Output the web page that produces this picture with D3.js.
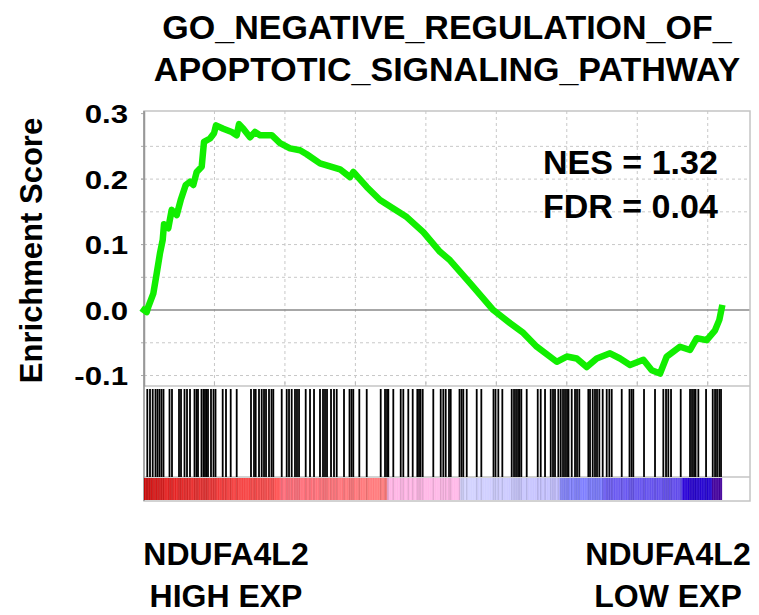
<!DOCTYPE html>
<html><head><meta charset="utf-8">
<script src="https://cdn.jsdelivr.net/npm/d3@7"></script>
<style>body{margin:0;background:#fff}svg{display:block}</style>
</head><body>
<svg id="chart" width="759" height="615"></svg>
<script>
// ---------- data ----------
const titleLines = ["GO_NEGATIVE_REGULATION_OF_", "APOPTOTIC_SIGNALING_PATHWAY"];
const statLines = ["NES = 1.32", "FDR = 0.04"];
const yLabel = "Enrichment Score";
const leftLabels = ["NDUFA4L2", "HIGH EXP"];
const rightLabels = ["NDUFA4L2", "LOW EXP"];
const yTickValues = [-0.1, 0.0, 0.1, 0.2, 0.3];
const yGridValues = [-0.1, -0.05, 0.05, 0.1, 0.15, 0.2, 0.25];
const xGridValues = [2500, 5000, 7500, 10000, 12500, 15000, 17500, 20000];
const totalGenes = 20500;
const xAxisMax = 21500;

// running enrichment score (rank, ES)
const esRanks = [0, 96, 153, 330, 451, 568, 663, 710, 862, 983, 1160, 1302, 1480, 1632, 1749, 1870, 2047, 2129, 2342, 2484, 2555, 2814, 3112, 3289, 3371, 3523, 3761, 3938, 4116, 4531, 4825, 5180, 5535, 5773, 6245, 6482, 6954, 7309, 7426, 7902, 8373, 8845, 9321, 9910, 10502, 10857, 11567, 12393, 12986, 13458, 13933, 14643, 14998, 15353, 15707, 16062, 16534, 16889, 17244, 17716, 18014, 18309, 18546, 19018, 19372, 19610, 19965, 20259, 20412, 20497];
const esValues = [0.0, -0.003, 0.005, 0.025, 0.056, 0.087, 0.107, 0.131, 0.125, 0.153, 0.145, 0.168, 0.191, 0.196, 0.191, 0.211, 0.219, 0.257, 0.262, 0.270, 0.282, 0.277, 0.272, 0.267, 0.284, 0.277, 0.264, 0.272, 0.267, 0.267, 0.255, 0.247, 0.244, 0.238, 0.224, 0.221, 0.215, 0.203, 0.211, 0.188, 0.168, 0.155, 0.142, 0.119, 0.089, 0.076, 0.041, 0.000, -0.020, -0.035, -0.056, -0.079, -0.071, -0.074, -0.087, -0.074, -0.066, -0.074, -0.084, -0.076, -0.092, -0.097, -0.071, -0.056, -0.061, -0.043, -0.046, -0.031, -0.015, 0.003];

// gene-set hit ranks
const hitRanks = [117, 213, 309, 408, 479, 550, 621, 692, 905, 993, 1242, 1313, 1437, 1526, 1632, 1792, 1863, 1916, 2040, 2111, 2164, 2218, 2271, 2377, 2466, 2537, 2792, 2909, 3076, 3289,
 3796, 3903, 3963, 4080, 4176, 4258, 4329, 4435, 4524, 4588, 4886, 5063, 5145, 5240, 5357, 5428, 5500, 5737, 5890, 6032, 6244, 6351, 6422, 6493, 6635, 6741, 6837,
 7096, 7291, 7362, 7426, 7639, 7902, 8398, 8551, 8622, 8668, 8845, 9108, 9200, 9377, 9533, 9697, 9757, 9810, 9888, 10264,
 10527, 10619, 10704, 10821, 10882, 11194, 11265, 11329, 11450, 11804, 11968, 12400, 12471, 12571, 12713, 13046, 13128, 13199, 13270, 13323, 13387, 13578, 13969,
 14075, 14228, 14430, 14511, 14582, 14700, 14785, 14866, 14937, 15008, 15061, 15175, 15292, 15363, 15444, 15764, 15824, 15920, 16001, 16072, 16154, 16274, 16416, 16509, 16594, 16949, 17225, 17297, 17360,
 17740, 18130, 18425, 18521, 18602, 18698, 19042, 19372, 19443, 19514, 19568, 19667, 19941, 20178, 20260, 20331, 20412, 20472];

// ranked-list colour bar stops
const colourRanks = [0, 400, 4825, 4826, 8622, 8623, 11212, 11213, 14760, 14761, 16285, 16286, 19088, 19089, 20152, 20153, 20500];
const colourValues = ["#c40404", "#e01a1a", "#ff5252", "#ff6a78", "#ff7b7b", "#ffb4e4", "#ffb8e8", "#d4d4ff", "#c2beff", "#8585ff", "#7878ff", "#6c5cf2", "#5e48ea", "#2a00d8", "#2000cc", "#4800a8", "#4800a8"];

// ---------- layout ----------
const L = 144, R = 750;
const plotTop = 111, plotBottom = 386;
const barTop = 389, barBottom = 477, cbTop = 477, cbBottom = 500, panelBottom = 501;
const font = "'Liberation Sans', Arial, Helvetica, sans-serif";

const svg = d3.select("#chart");
const x = d3.scaleLinear().domain([0, xAxisMax]).range([L, R]);
const y = d3.scaleLinear().domain([-0.116, 0.304]).range([plotBottom, plotTop]);

// grid
const g = svg.append("g");
g.selectAll("line.gy").data(yGridValues).join("line")
  .attr("x1", L).attr("x2", R).attr("y1", d => y(d)).attr("y2", d => y(d))
  .attr("stroke", "#c8c8c8").attr("stroke-width", 1).attr("stroke-dasharray", "3,3");
g.selectAll("line.gx").data(xGridValues).join("line")
  .attr("x1", d => x(d)).attr("x2", d => x(d)).attr("y1", plotTop).attr("y2", plotBottom)
  .attr("stroke", "#c8c8c8").attr("stroke-width", 1).attr("stroke-dasharray", "3,3");

// zero line
g.append("line").attr("x1", L).attr("x2", R).attr("y1", y(0)).attr("y2", y(0))
  .attr("stroke", "#8a8a8a").attr("stroke-width", 1.5);

// panel borders
const border = "#c4c4c4";
g.append("rect").attr("x", L).attr("y", plotTop).attr("width", R - L).attr("height", panelBottom - plotTop)
  .attr("fill", "none").attr("stroke", border).attr("stroke-width", 1.5);
g.append("line").attr("x1", L).attr("x2", R).attr("y1", plotBottom).attr("y2", plotBottom).attr("stroke", border).attr("stroke-width", 1.5);
g.append("line").attr("x1", L).attr("x2", R).attr("y1", cbTop).attr("y2", cbTop).attr("stroke", border).attr("stroke-width", 1.5);
g.selectAll("line.xt").data(xGridValues).join("line")
  .attr("x1", d => x(d)).attr("x2", d => x(d)).attr("y1", plotBottom - 4).attr("y2", plotBottom)
  .attr("stroke", "#bbb");

// y axis
const yAxis = d3.axisLeft(y).tickValues(yTickValues).tickSize(0).tickPadding(16)
  .tickFormat(d => d.toFixed(1));
const ya = svg.append("g").attr("transform", `translate(${L},0)`).call(yAxis);
ya.select(".domain").attr("stroke", "#999").attr("stroke-width", 1.5);
ya.selectAll("text").attr("font-family", font).attr("font-size", 26).attr("font-weight", "bold").attr("fill", "#000")
  .attr("transform", "scale(1.2,1)").attr("x", -16 / 1.2).attr("dy", "0.36em");
svg.append("g").selectAll("line").data(yGridValues.concat(yTickValues)).join("line")
  .attr("x1", L - 3).attr("x2", L).attr("y1", d => y(d)).attr("y2", d => y(d)).attr("stroke", "#aaa");
svg.append("line").attr("x1", L).attr("x2", L).attr("y1", plotTop).attr("y2", panelBottom)
  .attr("stroke", "#999").attr("stroke-width", 1.5);

// y label
svg.append("text").attr("transform", `translate(42,${(plotTop + plotBottom) / 2 + 2}) rotate(-90)`)
  .attr("text-anchor", "middle").attr("font-family", font).attr("font-weight", "bold").attr("font-size", 31).attr("fill", "#000")
  .text(yLabel);

// colour bar
const colour = d3.scaleLinear().domain(colourRanks).range(colourValues);
const step = 25;
const bins = d3.range(0, totalGenes, step);
svg.append("g").selectAll("rect").data(bins).join("rect")
  .attr("x", d => x(d)).attr("y", cbTop + 1).attr("width", d => x(Math.min(d + step, totalGenes)) - x(d) + 0.3)
  .attr("height", cbBottom - cbTop - 1).attr("fill", d => colour(d + step / 2));
svg.append("g").selectAll("line").data(hitRanks).join("line")
  .attr("x1", d => x(d)).attr("x2", d => x(d)).attr("y1", cbTop + 1).attr("y2", cbBottom)
  .attr("stroke", "#000").attr("stroke-opacity", 0.1).attr("stroke-width", 1.5);

// barcode
svg.append("g").selectAll("line").data(hitRanks).join("line")
  .attr("x1", d => x(d)).attr("x2", d => x(d)).attr("y1", barTop).attr("y2", barBottom)
  .attr("stroke", "#000").attr("stroke-width", 1.8);

// ES curve
const line = d3.line().x((d, i) => x(esRanks[i])).y(d => y(d));
svg.append("path").datum(esValues).attr("d", line)
  .attr("fill", "none").attr("stroke", "#11ee00").attr("stroke-width", 6.5)
  .attr("stroke-linejoin", "round").attr("stroke-linecap", "square");

// stats text
svg.append("g").selectAll("text").data(statLines).join("text")
  .attr("x", 543).attr("y", (d, i) => 174 + i * 44)
  .attr("font-family", font).attr("font-size", 34).attr("font-weight", "bold").attr("fill", "#000").text(d => d);

// title
svg.append("g").selectAll("text").data(titleLines).join("text")
  .attr("x", 447).attr("y", (d, i) => 39 + i * 42).attr("text-anchor", "middle")
  .attr("font-family", font).attr("font-weight", "bold").attr("font-size", 34).attr("fill", "#000").text(d => d);

// bottom labels
svg.append("g").selectAll("text").data(leftLabels).join("text")
  .attr("x", 226).attr("y", (d, i) => 565 + i * 42).attr("text-anchor", "middle")
  .attr("font-family", font).attr("font-weight", "bold").attr("font-size", 32).attr("fill", "#000").text(d => d);
svg.append("g").selectAll("text").data(rightLabels).join("text")
  .attr("x", 668).attr("y", (d, i) => 565 + i * 42).attr("text-anchor", "middle")
  .attr("font-family", font).attr("font-weight", "bold").attr("font-size", 32).attr("fill", "#000").text(d => d);
</script>
</body></html>
